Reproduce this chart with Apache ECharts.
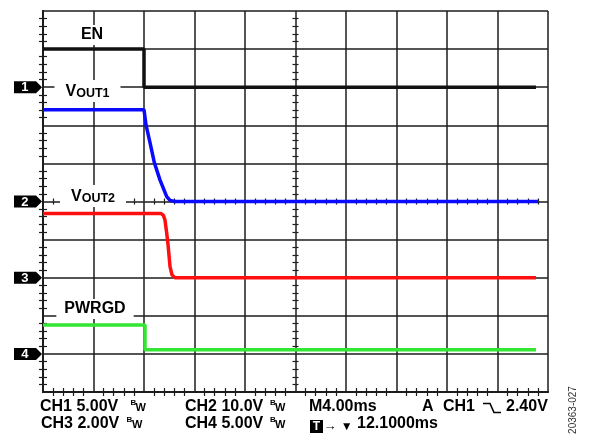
<!DOCTYPE html>
<html><head><meta charset="utf-8">
<script src="https://cdn.jsdelivr.net/npm/echarts@6/dist/echarts.min.js"></script>
<style>html,body{margin:0;padding:0;background:#fff}#c{width:590px;height:436px}</style>
</head><body><div id="c"></div>
<script>
// ---- data (time in ms, voltages in V) ----
const channelNames = ['1', '2', '3', '4'];
const voltsPerDiv = [5, 10, 2, 5];      // CH1..CH4 scale
const groundDiv = [8, 5, 3, 1];         // ground marker position (divisions from bottom)
const timePerDiv = 4;                   // M4.00ms
const divisionsX = 10;
const divisionsY = 10;

const enTime = [0, 8.0, 8.0, 39.05];
const enVolts = [5.0, 5.0, 0, 0];

const vout1Time = [0, 8.0, 8.16, 8.48, 8.82, 9.27, 9.80, 10.06, 10.46, 39.2];
const vout1Volts = [24.1, 24.1, 20.1, 15.4, 10.2, 5.6, 1.3, 0.3, 0, 0];

const vout2Time = [0, 9.35, 9.54, 9.66, 9.80, 9.92, 10.06, 10.22, 10.46, 39.05];
const vout2Volts = [3.37, 3.37, 3.27, 3.03, 2.33, 1.63, 0.58, 0.14, 0, 0];

const pwrgdTime = [0, 8.08, 8.08, 39.05];
const pwrgdVolts = [3.8, 3.8, 0.55, 0.55];

const traceColors = ['#111111', '#0a0aff', '#ff1010', '#33e633'];

// ---- build ----
const FONT = '"Liberation Sans", Arial, sans-serif';
const GRID = '#1c1c1c';
function toDiv(times, volts, ch) {
  return times.map((t, i) => [t, groundDiv[ch] + volts[i] / voltsPerDiv[ch]]);
}
const traces = [
  toDiv(enTime, enVolts, 0),
  toDiv(vout1Time, vout1Volts, 1),
  toDiv(vout2Time, vout2Volts, 2),
  toDiv(pwrgdTime, pwrgdVolts, 3)
];

const xMax = timePerDiv * divisionsX;
function xAx(extra) {
  return Object.assign({
    type: 'value', min: 0, max: xMax, interval: timePerDiv,
    axisLabel: { show: false },
    axisLine: { show: true, lineStyle: { color: GRID, width: 2 } },
    axisTick: { show: false, inside: true },
    minorTick: { show: true, splitNumber: 5, length: 4, lineStyle: { color: GRID, width: 1.2 } },
    splitLine: { show: false }
  }, extra);
}
function yAx(extra) {
  return Object.assign({
    type: 'value', min: 0, max: divisionsY, interval: 1,
    axisLabel: { show: false },
    axisLine: { show: true, lineStyle: { color: GRID, width: 2 } },
    axisTick: { show: false, inside: true },
    minorTick: { show: true, splitNumber: 5, length: 4, lineStyle: { color: GRID, width: 1.2 } },
    splitLine: { show: false }
  }, extra);
}
const centerMinor = { show: true, splitNumber: 5, length: 3, lineStyle: { color: GRID, width: 1.2 } };

const series = traces.map((d, i) => ({
  type: 'line', data: d, showSymbol: false, symbol: 'none',
  xAxisIndex: 0, yAxisIndex: 0,
  lineStyle: { color: traceColors[i], width: 3.5 },
  z: 3, silent: true, animation: false
}));
const markerT = -1.19;
series.push({
  type: 'scatter', xAxisIndex: 0, yAxisIndex: 0, clip: false, silent: true,
  symbol: 'path://M0,0L22,0L28,6L22,12L0,12Z', symbolSize: [28, 12],
  itemStyle: { color: '#000', opacity: 1 },
  data: groundDiv.map((g, i) => ({ value: [markerT, g], name: channelNames[i] })),
  label: { show: true, position: 'inside', formatter: '{b}', color: '#fff',
           fontWeight: 'bold', fontSize: 13, fontFamily: FONT, offset: [-3, 0.5] },
  z: 5, animation: false
});

function txt(text, x, y, size, extra) {
  return Object.assign({
    type: 'text', x: x, y: y, z: 100,
    style: Object.assign({ text: text, font: 'bold ' + size + 'px ' + FONT, fill: '#000',
                           align: 'left', verticalAlign: 'middle' }, extra || {})
  });
}
function voutLabel(sub, x, y) {
  return {
    type: 'text', x: x, y: y, z: 100,
    style: {
      text: '{v|V}{s|' + sub + '}', align: 'center', verticalAlign: 'middle',
      backgroundColor: '#fff', padding: [2, 11, 2, 11],
      rich: {
        v: { fontSize: 16, fontWeight: 'bold', fontFamily: FONT, fill: '#000', color: '#000', lineHeight: 18, verticalAlign: 'bottom' },
        s: { fontSize: 12.5, fontWeight: 'bold', fontFamily: FONT, fill: '#000', color: '#000', lineHeight: 9, verticalAlign: 'bottom' }
      }
    }
  };
}

const graphics = [
  // trace labels
  txt('EN', 92, 35, 16, { align: 'center', backgroundColor: '#fff', padding: [2, 8] }),
  voutLabel('OUT1', 87.5, 91),
  voutLabel('OUT2', 93, 196),
  txt('PWRGD', 95, 309, 16, { align: 'center', backgroundColor: '#fff', padding: [2, 8] }),
  // bottom readout
  txt('CH1 5.00V', 40, 407, 16),
  txt('B', 130.5, 403, 8),
  txt('W', 135.5, 407.5, 11),
  txt('CH3 2.00V', 41, 423.5, 16),
  txt('B', 126.5, 419.7, 8),
  txt('W', 132, 424.5, 11),
  txt('CH2 10.0V', 185, 407, 16),
  txt('B', 270, 403, 8),
  txt('W', 275, 407.5, 11),
  txt('CH4 5.00V', 185, 423.5, 16),
  txt('B', 270, 419.7, 8),
  txt('W', 275, 424.5, 11),
  txt('M4.00ms', 309, 407, 16),
  txt('A', 422, 407, 16),
  txt('CH1', 443, 407, 16),
  { type: 'polyline', z: 100, shape: { points: [[483, 403.5], [490, 403.5], [494, 412.5], [501, 412.5]] },
    style: { stroke: '#000', lineWidth: 1.6, fill: null } },
  txt('2.40V', 506, 407, 16),
  { type: 'rect', z: 100, shape: { x: 310, y: 420, width: 13, height: 13 }, style: { fill: '#000' } },
  txt('T', 316.5, 426.8, 12, { align: 'center', fill: '#fff' }),
  txt('\u2192', 330, 426, 13, { align: 'center' }),
  txt('\u25BC', 346.7, 427, 12, { align: 'center' }),
  txt('12.1000ms', 357, 423.5, 16),
  { type: 'text', x: 573, y: 410, rotation: Math.PI / 2, z: 100,
    style: { text: '20363-027', font: '10px ' + FONT, fill: '#333', align: 'center', verticalAlign: 'middle' } }
];

const chart = echarts.init(document.getElementById('c'), null, { renderer: 'canvas' });
chart.setOption({
  animation: false,
  backgroundColor: '#fff',
  grid: { left: 43, top: 11, width: 505, height: 381, containLabel: false, outerBoundsMode: 'none' },
  xAxis: [
    xAx({ position: 'bottom', splitLine: { show: true, lineStyle: { color: GRID, width: 1.5 } } }),
    xAx({ position: 'top' }),
    xAx({ position: 'bottom', offset: -190.5, axisLine: { show: false }, axisTick: { show: false, inside: true }, minorTick: centerMinor }),
    xAx({ position: 'bottom', offset: -190.5, axisLine: { show: false }, axisTick: { show: false, inside: false }, minorTick: centerMinor })
  ],
  yAxis: [
    yAx({ position: 'left', splitLine: { show: true, lineStyle: { color: GRID, width: 1.5 } } }),
    yAx({ position: 'right' }),
    yAx({ position: 'left', offset: -252.5, axisLine: { show: false }, axisTick: { show: false, inside: true }, minorTick: centerMinor }),
    yAx({ position: 'left', offset: -252.5, axisLine: { show: false }, axisTick: { show: false, inside: false }, minorTick: centerMinor })
  ],
  series: series,
  graphic: graphics
});
</script>
</body></html>
